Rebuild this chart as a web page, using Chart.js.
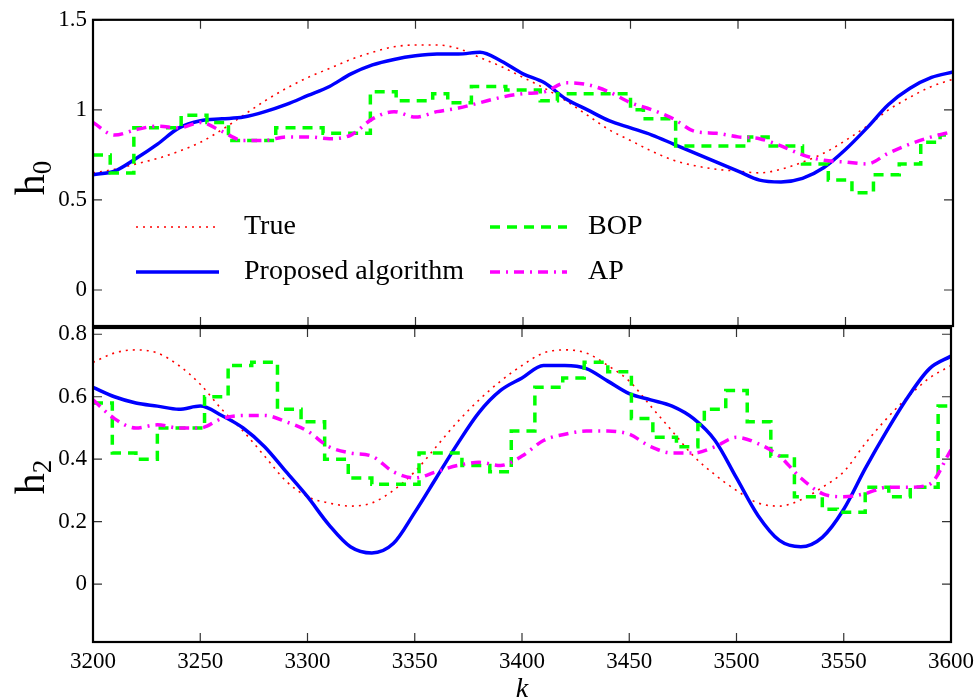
<!DOCTYPE html>
<html><head><meta charset="utf-8">
<script src="https://cdn.jsdelivr.net/npm/chart.js@4.4.1/dist/chart.umd.min.js"></script>
<style>
html,body{margin:0;padding:0;background:#fff;}
#wrap{position:relative;width:980px;height:700px;}
canvas{position:absolute;left:0;top:0;}
</style></head><body>
<div id="wrap"><canvas id="cTop" width="980" height="700"></canvas><canvas id="cBot" width="980" height="700"></canvas></div>
<script>
// ---- data ----
var kGrid=[3200,3210,3220,3230,3240,3250,3260,3270,3280,3290,3300,3310,3320,3330,3340,3350,3360,3370,3380,3390,3400,
 3410,3420,3430,3440,3450,3460,3470,3480,3490,3500,3510,3520,3530,3540,3550,3560,3570,3580,3590,3600];

// h0 (top panel)
var trueTop=[0.65,0.67,0.70,0.73,0.77,0.82,0.89,0.97,1.05,1.12,1.18,1.23,1.28,1.32,1.35,1.36,1.36,1.34,1.29,1.24,1.18,
 1.12,1.05,0.97,0.89,0.83,0.77,0.72,0.69,0.67,0.66,0.65,0.67,0.71,0.76,0.83,0.91,1.00,1.07,1.13,1.17];
var propTop=[0.64,0.66,0.73,0.81,0.90,0.94,0.95,0.96,0.99,1.03,1.08,1.13,1.20,1.25,1.28,1.30,1.31,1.31,1.32,1.27,1.20,
 1.15,1.06,1.00,0.94,0.90,0.86,0.81,0.76,0.71,0.66,0.61,0.60,0.62,0.68,0.78,0.90,1.03,1.12,1.18,1.21];
var apTop=[0.93,0.86,0.89,0.91,0.90,0.93,0.88,0.83,0.83,0.85,0.85,0.84,0.86,0.95,0.99,0.96,0.99,1.01,1.04,1.07,1.09,
 1.10,1.15,1.14,1.10,1.04,1.00,0.95,0.88,0.87,0.85,0.84,0.80,0.75,0.72,0.71,0.70,0.76,0.81,0.85,0.88];
var bopTopK=[3200,3208,3219,3241,3253,3263,3285,3307,3329,3341,3358,3365,3376,3392,3408,3416,3450,3456,3471,3505,3514,3530,3542,3553,3563,3575,3585,3594,3600];
var bopTopV=[0.75,0.65,0.90,0.97,0.93,0.83,0.90,0.87,1.10,1.05,1.09,1.04,1.13,1.11,1.05,1.09,1.00,0.95,0.80,0.85,0.80,0.70,0.61,0.54,0.64,0.70,0.82,0.86,0.86];

// h2 (bottom panel)
var trueBot=[0.71,0.74,0.75,0.74,0.70,0.64,0.56,0.49,0.41,0.33,0.28,0.26,0.25,0.26,0.30,0.36,0.44,0.52,0.59,0.65,0.70,
 0.74,0.75,0.74,0.70,0.65,0.57,0.49,0.41,0.35,0.30,0.26,0.25,0.27,0.31,0.36,0.45,0.53,0.60,0.66,0.70];
var propBot=[0.63,0.60,0.58,0.57,0.56,0.57,0.54,0.50,0.44,0.36,0.28,0.19,0.12,0.10,0.13,0.23,0.34,0.45,0.55,0.62,0.66,
 0.70,0.70,0.69,0.65,0.61,0.59,0.57,0.53,0.46,0.34,0.22,0.14,0.12,0.15,0.24,0.37,0.49,0.60,0.69,0.73];
var apBot=[0.59,0.53,0.50,0.51,0.50,0.50,0.53,0.54,0.54,0.52,0.49,0.44,0.42,0.41,0.36,0.34,0.36,0.38,0.39,0.38,0.41,
 0.46,0.48,0.49,0.49,0.48,0.44,0.42,0.42,0.44,0.47,0.45,0.41,0.34,0.29,0.28,0.29,0.31,0.31,0.32,0.43];
var bopBotK=[3200,3209,3220,3230,3252,3263,3274,3286,3297,3308,3319,3330,3352,3372,3385,3395,3406,3419,3429,3440,3451,3461,3472,3482,3485,3495,3505,3516,3527,3540,3547,3560,3571,3581,3594,3600];
var bopBotV=[0.58,0.42,0.40,0.50,0.60,0.70,0.71,0.56,0.52,0.40,0.34,0.32,0.42,0.38,0.36,0.49,0.63,0.66,0.71,0.68,0.53,0.47,0.44,0.51,0.56,0.62,0.52,0.41,0.28,0.24,0.23,0.31,0.28,0.31,0.57,0.57];

var xTicks=[3200,3250,3300,3350,3400,3450,3500,3550,3600];
var yTopTicks=[0,0.5,1,1.5];
var yBotTicks=[0,0.2,0.4,0.6,0.8];
var names=['True','Proposed algorithm','BOP','AP'];

var SERIF='"Liberation Serif","Times New Roman",serif';

function pts(xs,ys){return xs.map(function(x,i){return {x:x,y:ys[i]};});}
function sets(tr,pr,bk,bv,ap){
 return [
  {label:names[0],data:pts(kGrid,tr),borderColor:'#ff0000',borderWidth:1.6,borderDash:[2,5],cubicInterpolationMode:'monotone',order:4},
  {label:names[1],data:pts(kGrid,pr),borderColor:'#0000ff',borderWidth:3.5,cubicInterpolationMode:'monotone',order:3},
  {label:names[2],data:pts(bk,bv),borderColor:'#00ff00',borderWidth:3.5,borderDash:[10,7],stepped:true,order:2},
  {label:names[3],data:pts(kGrid,ap),borderColor:'#ff00ff',borderWidth:3.5,borderDash:[10,6,2,6],cubicInterpolationMode:'monotone',order:1}
 ];
}

// box, inward ticks and y label
function frame(yTicks,yName,ySub,labY){
 return {id:'frame',afterDraw:function(ch){
  var a=ch.chartArea,c=ch.ctx,xs=ch.scales.x,ys=ch.scales.y;
  c.save();
  c.strokeStyle='#333';c.lineWidth=1.2;c.beginPath();
  xTicks.forEach(function(v){var p=xs.getPixelForValue(v);
   c.moveTo(p,a.top);c.lineTo(p,a.top+9);c.moveTo(p,a.bottom);c.lineTo(p,a.bottom-9);});
  yTicks.forEach(function(v){var p=ys.getPixelForValue(v);
   c.moveTo(a.left,p);c.lineTo(a.left+9,p);c.moveTo(a.right,p);c.lineTo(a.right-9,p);});
  c.stroke();
  c.strokeStyle='#000';c.lineWidth=2.2;
  c.strokeRect(a.left,a.top,a.right-a.left,a.bottom-a.top);
  // y label h with subscript
  c.fillStyle='#000';
  c.translate(44,labY);c.rotate(-Math.PI/2);
  c.font='42px '+SERIF;var w1=c.measureText(yName).width;
  c.font='27px '+SERIF;var w2=c.measureText(ySub).width;
  var s=-(w1+w2)/2;
  c.font='42px '+SERIF;c.fillText(yName,s,0);
  c.font='27px '+SERIF;c.fillText(ySub,s+w1,7);
  c.restore();
 }};
}

var legendPlugin={id:'leg',afterDraw:function(ch){
 var c=ch.ctx;c.save();
 var cols=[[136,219,244],[490,567,588]],rows=[227,272];
 ch.data.datasets.forEach(function(d,i){
  var col=cols[Math.floor(i/2)],y=rows[i%2];
  c.strokeStyle=d.borderColor;c.lineWidth=d.borderWidth;c.setLineDash(d.borderDash||[]);
  c.beginPath();c.moveTo(col[0],y);c.lineTo(col[1],y);c.stroke();
  c.setLineDash([]);c.fillStyle='#000';c.font='28px '+SERIF;c.textBaseline='middle';
  c.fillText(d.label,col[2],y);
 });
 c.restore();
}};

var kLabel={id:'klab',afterDraw:function(ch){
 var c=ch.ctx;c.save();c.fillStyle='#000';c.font='italic 28px '+SERIF;c.textAlign='center';c.textBaseline='alphabetic';
 c.fillText('k',ch.scales.x.getPixelForValue(3400),697);c.restore();
}};

function yScale(min,max,ticks){
 return {type:'linear',min:min,max:max,grid:{display:false,drawTicks:false},border:{display:false},
  afterBuildTicks:function(s){s.ticks=ticks.map(function(v){return {value:v};});},
  afterFit:function(s){s.width=93;},
  ticks:{padding:6,color:'#000',font:{family:SERIF,size:23},callback:function(v){return String(v);}}};
}

Chart.defaults.animation=false;
Chart.defaults.elements.point.radius=0;

new Chart(document.getElementById('cTop'),{
 type:'line',
 data:{datasets:sets(trueTop,propTop,bopTopK,bopTopV,apTop)},
 options:{responsive:false,devicePixelRatio:1,
  layout:{padding:{left:0,right:27,top:16,bottom:374}},
  plugins:{legend:{display:false},tooltip:{enabled:false}},
  scales:{
   x:{type:'linear',min:3200,max:3600,display:false},
   y:yScale(-0.2,1.5,yTopTicks)
  }},
 plugins:[frame(yTopTicks,'h','0',178),legendPlugin]
});

new Chart(document.getElementById('cBot'),{
 type:'line',
 data:{datasets:sets(trueBot,propBot,bopBotK,bopBotV,apBot)},
 options:{responsive:false,devicePixelRatio:1,
  layout:{padding:{left:0,right:27,top:328,bottom:0}},
  plugins:{legend:{display:false},tooltip:{enabled:false}},
  scales:{
   x:{type:'linear',min:3200,max:3600,grid:{display:false,drawTicks:false},border:{display:false},
    afterBuildTicks:function(s){s.ticks=xTicks.map(function(v){return {value:v};});},
    afterFit:function(s){s.height=58;},
    ticks:{padding:6,maxRotation:0,color:'#000',font:{family:SERIF,size:23},callback:function(v){return String(v);}}},
   y:yScale(-0.185,0.82,yBotTicks)
  }},
 plugins:[frame(yBotTicks,'h','2',477),kLabel]
});
</script>
</body></html>
